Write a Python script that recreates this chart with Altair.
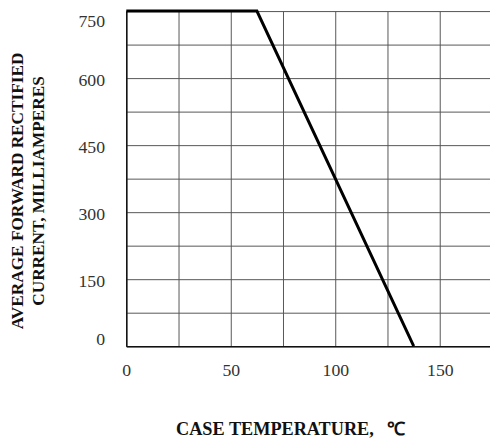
import altair as alt
import pandas as pd

# Derating curve points (case temperature °C, current mA)
temps = [0, 62.5, 137.5]
currents = [750, 750, 0]

x_grid = [0, 25, 50, 75, 100, 125, 150]
y_grid = [0, 75, 150, 225, 300, 375, 450, 525, 600, 675, 750]

df = pd.DataFrame({"t": temps, "i": currents})

FONT = "Liberation Serif"

chart = alt.Chart(df).mark_line(color="black", strokeWidth=3, clip=False, strokeJoin="miter").encode(
    x=alt.X("t:Q",
            scale=alt.Scale(domain=[0, 174], nice=False, zero=False),
            axis=alt.Axis(values=x_grid,
                          labelExpr="datum.value % 50 == 0 ? datum.label : ''",
                          title="CASE TEMPERATURE,\u00a0\u00a0\u00a0℃",
                          titleFont=FONT, titleFontSize=18.5, titleFontWeight="bold",
                          titleColor="#111", titleAlign="left", titleAnchor="start",
                          titleBaseline="alphabetic", titleX=50, titleY=90,
                          labelFont=FONT, labelFontSize=18, labelColor="#333",
                          labelPadding=16, labelBaseline="top", labelFlush=False,
                          ticks=False, grid=True, gridColor="#555", gridWidth=1,
                          domainColor="#111", domainWidth=1.5)),
    y=alt.Y("i:Q",
            scale=alt.Scale(domain=[0, 750], nice=False),
            axis=alt.Axis(values=y_grid,
                          labelExpr="datum.value % 150 == 0 ? datum.label : ''",
                          title=["AVERAGE FORWARD RECTIFIED", "CURRENT, MILLIAMPERES"],
                          titleFont=FONT, titleFontSize=17.5, titleFontWeight="bold",
                          titleColor="#111", titleAngle=270, titleAlign="center",
                          titleBaseline="alphabetic", titleLineHeight=21.5,
                          titleX=-105, titleY=182,
                          labelFont=FONT, labelFontSize=18, labelColor="#333",
                          labelPadding=22,
                          labelBaseline=alt.condition("datum.value == 750", alt.value("top"), alt.value("middle")),
                          labelOffset=alt.condition("datum.value == 0", alt.value(-7), alt.value(2)),
                          labelFlush=False,
                          ticks=False, grid=True, gridColor="#555", gridWidth=1,
                          domainColor="#111", domainWidth=1.5)),
).properties(
    width=369,
    height=340,
    autosize=alt.AutoSizeParams(type="none"),
    padding={"left": 120, "top": 0, "right": 0, "bottom": 91},
).configure_view(stroke=None).configure(background="white")

chart.save("out.html", embed_options={"renderer": "svg", "actions": False})
